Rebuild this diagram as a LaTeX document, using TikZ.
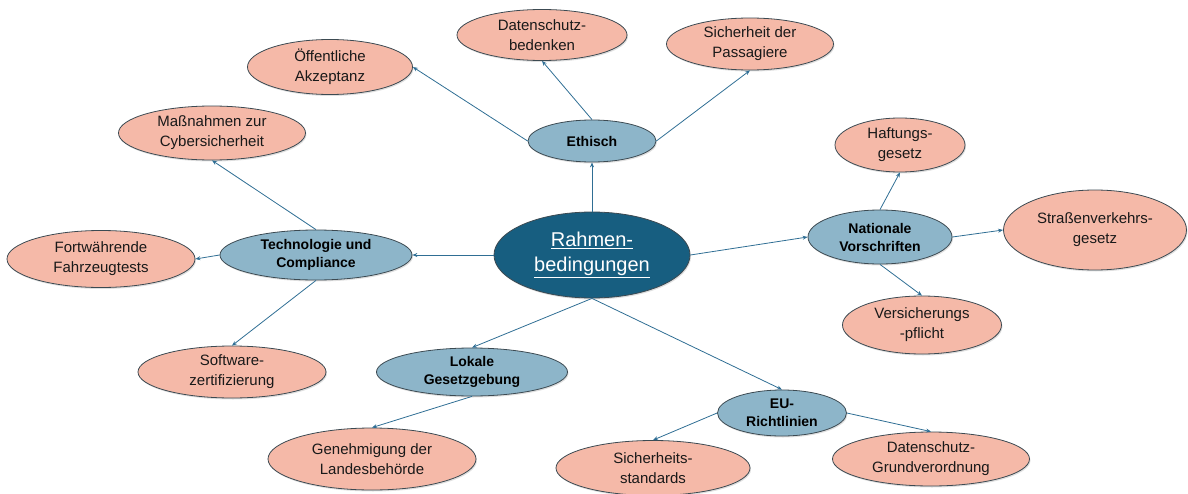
\documentclass[tikz,border=0pt]{standalone}
\usepackage{fontspec}
\setmainfont{Liberation Sans}
\usepackage{tikz}
\usetikzlibrary{shapes.geometric, arrows.meta, positioning, shadows}
\definecolor{rahmenblue}{HTML}{175E80}
\definecolor{branchblue}{HTML}{8DB5C9}
\definecolor{leafsalmon}{HTML}{F5B9A8}
\definecolor{edgeblue}{HTML}{2F6E94}
\definecolor{rimgray}{HTML}{3C4A52}

\begin{document}
\begin{tikzpicture}[
  x=1pt, y=1pt,
  core/.style={
    ellipse, draw=rimgray, fill=rahmenblue, line width=0.8pt,
    minimum width=196pt, minimum height=86pt, inner sep=0pt,
    font=\fontsize{20}{24}\selectfont, text=white, align=center,
    drop shadow={opacity=0.25, shadow xshift=1pt, shadow yshift=-1.5pt},
  },
  branch/.style={
    ellipse, draw=rimgray, fill=branchblue, line width=0.8pt,
    minimum width=#1, inner sep=0pt,
    font=\fontsize{14}{18}\selectfont\bfseries, text=black, align=center,
    drop shadow={opacity=0.25, shadow xshift=1pt, shadow yshift=-1.5pt},
  },
  branch/.default={130pt},
  leaf/.style={
    ellipse, draw=rimgray, fill=leafsalmon, line width=0.8pt,
    minimum width=#1, inner sep=0pt,
    font=\fontsize{15}{20}\selectfont, text=black!90, align=center,
    drop shadow={opacity=0.25, shadow xshift=1pt, shadow yshift=-1.5pt},
  },
  leaf/.default={170pt},
  link/.style={-{Stealth[length=5pt, width=4pt]}, draw=edgeblue, line width=0.8pt},
  on grid,
]
  \useasboundingbox (-592,-238) rectangle (596,255);

  % Zentrum
  \node[core] (rahmen) at (0,0)
    {\underline{Rahmen-}\\[1pt]\underline{bedingungen}};

  % Hauptzweige
  \node[branch={128pt}, minimum height=42pt, above=114pt of rahmen] (ethisch) {Ethisch};
  \node[branch={192pt}, minimum height=50pt, left=276pt of rahmen] (technik)
    {Technologie und\\Compliance};
  \node[branch={144pt}, minimum height=54pt, above right=18pt and 288pt of rahmen] (national)
    {Nationale\\Vorschriften};
  \node[branch={191pt}, minimum height=48pt, below left=117pt and 120pt of rahmen] (lokal)
    {Lokale\\Gesetzgebung};
  \node[branch={129pt}, minimum height=46pt, below right=158pt and 190pt of rahmen] (eu)
    {EU-\\Richtlinien};

  % Ethisch
  \node[leaf={165pt}, minimum height=55pt, above left=74pt and 262pt of ethisch] (akzeptanz)
    {Öffentliche\\Akzeptanz};
  \node[leaf={170pt}, minimum height=51pt, above left=106pt and 50pt of ethisch] (datenschutz)
    {Datenschutz-\\bedenken};
  \node[leaf={167pt}, minimum height=52pt, above right=97pt and 158pt of ethisch] (passagiere)
    {Sicherheit der\\Passagiere};

  % Technologie und Compliance
  \node[leaf={187pt}, minimum height=54pt, above left=122pt and 104pt of technik] (cyber)
    {Maßnahmen zur\\Cybersicherheit};
  \node[leaf={188pt}, minimum height=57pt, below left=4pt and 215pt of technik] (fahrzeugtests)
    {Fortwährende\\Fahrzeugtests};
  \node[leaf={188pt}, minimum height=52pt, below left=117pt and 84pt of technik] (software)
    {Software-\\zertifizierung};

  % Nationale Vorschriften
  \node[leaf={130pt}, minimum height=54pt, above right=92pt and 20pt of national] (haftung)
    {Haftungs-\\gesetz};
  \node[leaf={183pt}, minimum height=80pt, above right=7pt and 215pt of national] (stvg)
    {Straßenverkehrs-\\gesetz};
  \node[leaf={159pt}, minimum height=58pt, below right=88pt and 42pt of national] (versicherung)
    {Versicherungs\\-pflicht};

  % Lokale Gesetzgebung
  \node[leaf={208pt}, minimum height=62pt, below left=87pt and 100pt of lokal] (genehmigung)
    {Genehmigung der\\Landesbehörde};

  % EU-Richtlinien
  \node[leaf={194pt}, minimum height=55pt, below left=55pt and 129pt of eu] (standards)
    {Sicherheits-\\standards};
  \node[leaf={197pt}, minimum height=54pt, below right=46pt and 149pt of eu] (dsgvo)
    {Datenschutz-\\Grundverordnung};

  % Verbindungen
  \draw[link] (rahmen.north) -- (ethisch.south);
  \draw[link] (rahmen.west) -- (technik.east);
  \draw[link] (rahmen.east) -- (national.west);
  \draw[link] (rahmen.south) -- (lokal.north);
  \draw[link] (rahmen.south) -- (eu.north);

  \draw[link] (ethisch.west) -- (akzeptanz.east);
  \draw[link] (ethisch.north) -- (datenschutz.south);
  \draw[link] (ethisch.east) -- (passagiere.south);

  \draw[link] (technik.north) -- (cyber.south);
  \draw[link] (technik.west) -- (fahrzeugtests.east);
  \draw[link] (technik.south) -- (software.north);

  \draw[link] (national.north) -- (haftung.south);
  \draw[link] (national.east) -- (stvg.west);
  \draw[link] (national.south) -- (versicherung.north);

  \draw[link] (lokal.south) -- (genehmigung.north);

  \draw[link] (eu.west) -- (standards.north);
  \draw[link] (eu.east) -- (dsgvo.north);

\end{tikzpicture}
\end{document}
